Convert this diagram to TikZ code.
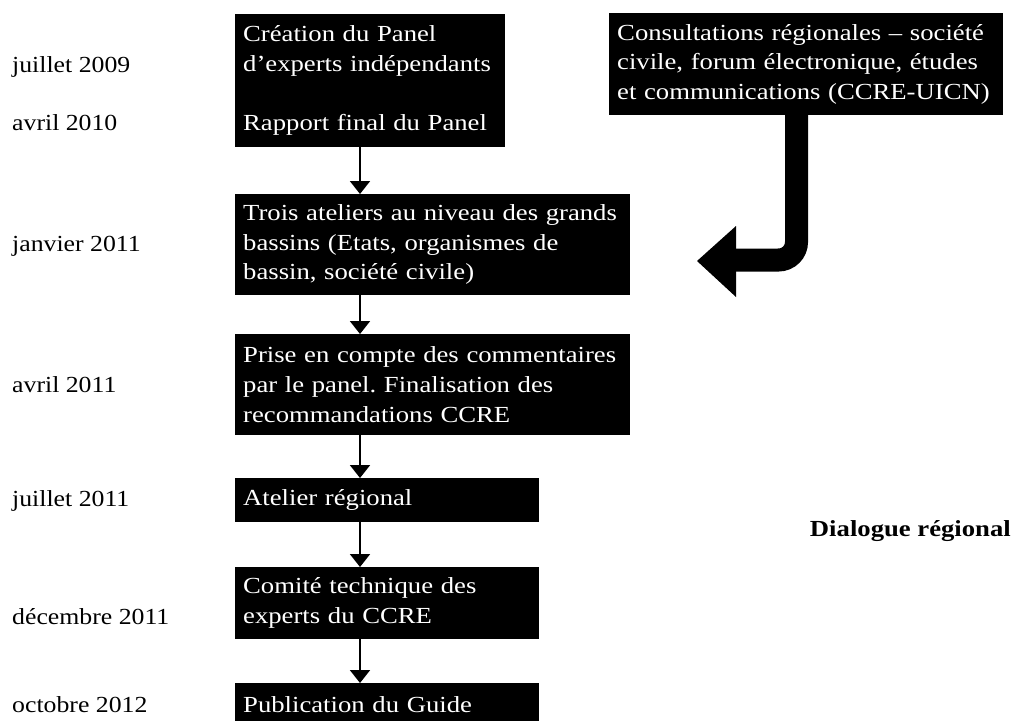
\documentclass[tikz,border=0pt]{standalone}
\usepackage{fontspec}
\setmainfont[FakeStretch=1.12]{Liberation Serif}
\newfontfamily\boxfont[FakeStretch=1.16]{Liberation Serif}
\frenchspacing
\usetikzlibrary{arrows.meta}
\begin{document}
\begin{tikzpicture}[x=1pt,y=-1pt,
  txt/.style={font=\fontsize{23}{29.7}\selectfont},
  stepbox/.style={font=\boxfont\fontsize{23}{29.7}\selectfont, fill=black, text=white, inner xsep=8pt, inner ysep=0pt, align=left, anchor=north west},
  datelbl/.style={txt, anchor=base west, inner sep=0pt},
  flow/.style={line width=2pt, -{Triangle[width=20pt,length=13pt]}},
  bigflow/.style={line width=23pt, rounded corners=18pt}
]
\useasboundingbox (0,0) rectangle (1014,720);

\node[stepbox, minimum width=270pt, minimum height=133pt, text width=254pt] (b1) at (235,14)
  {Création du Panel\\d’experts indépendants\\[29.7pt]Rapport final du Panel};
\node[stepbox, minimum width=395pt, minimum height=101pt, text width=379pt] (b2) at (235,194)
  {Trois ateliers au niveau des grands\\bassins (Etats, organismes de\\bassin, société civile)};
\node[stepbox, minimum width=395pt, minimum height=101pt, text width=379pt] (b3) at (235,334)
  {Prise en compte des commentaires\\par le panel. Finalisation des\\recommandations CCRE};
\node[stepbox, minimum width=304pt, minimum height=44pt, text width=288pt] (b4) at (235,478)
  {Atelier régional};
\node[stepbox, minimum width=304pt, minimum height=72pt, text width=288pt] (b5) at (235,567)
  {Comité technique des\\experts du CCRE};
\node[stepbox, minimum width=304pt, minimum height=42pt, text width=288pt] (b6) at (235,683)
  {Publication du Guide};
\node[stepbox, minimum width=394pt, minimum height=102pt, text width=378pt] (cons) at (609,13)
  {Consultations régionales – société\\civile, forum électronique, études\\et communications \mbox{(CCRE-UICN)}};

\coordinate (ax) at (360,0);
\draw[flow] (ax |- b1.south) -- (ax |- b2.north);
\draw[flow] (ax |- b2.south) -- (ax |- b3.north);
\draw[flow] (ax |- b3.south) -- (ax |- b4.north);
\draw[flow] (ax |- b4.south) -- (ax |- b5.north);
\draw[flow] (ax |- b5.south) -- (ax |- b6.north);

\coordinate (sx) at (796.5,0);
\coordinate (hb) at (730,260);
\coordinate (tip) at (697,261);
\draw[bigflow] ([yshift=2pt]sx |- cons.south) |- (hb);
\fill (tip) -- (736,226) -- (736,297) -- cycle;

\node[datelbl] (d1) at (12,72) {juillet 2009};
\node[datelbl] (d2) at (12,130) {avril 2010};
\node[datelbl] (d3) at (12,251) {janvier 2011};
\node[datelbl] (d4) at (12,392) {avril 2011};
\node[datelbl] (d5) at (12,506) {juillet 2011};
\node[datelbl] (d6) at (12,624) {décembre 2011};
\node[datelbl] (d7) at (12,712) {octobre 2012};

\node[font=\boxfont\fontsize{23}{29.7}\selectfont\bfseries, anchor=base east, inner sep=0pt] (dlg) at (1011,536) {Dialogue régional};
\end{tikzpicture}
\end{document}
